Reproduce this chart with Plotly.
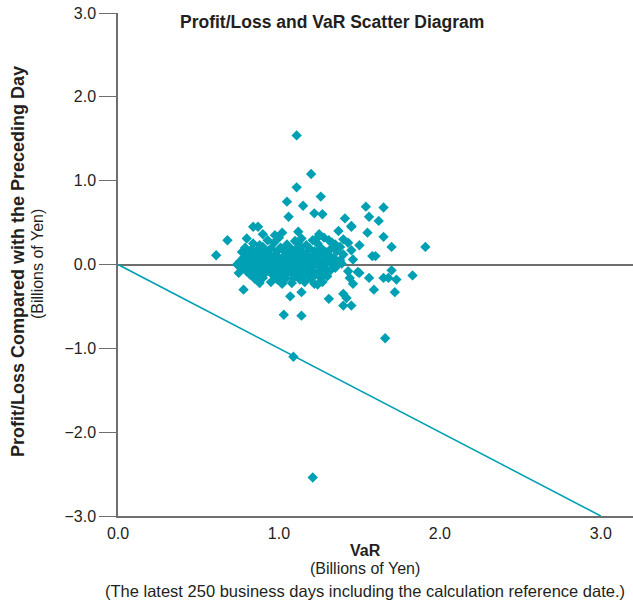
import plotly.graph_objects as go

# ---- data ----
sparse_points = [
    (1.11, 1.54), (1.20, 1.08), (1.11, 0.92), (1.26, 0.81), (1.05, 0.75), (1.15, 0.70),
    (1.06, 0.57), (1.22, 0.61), (1.27, 0.60), (1.41, 0.55), (1.54, 0.69), (1.65, 0.68),
    (1.56, 0.57), (1.62, 0.52), (1.45, 0.46), (0.84, 0.45), (0.87, 0.45), (0.68, 0.29),
    (0.61, 0.11), (0.78, -0.30), (0.75, -0.10), (1.07, -0.38), (1.14, -0.33), (1.03, -0.60),
    (1.14, -0.61), (1.31, -0.41), (1.40, -0.35), (1.42, -0.40), (1.40, -0.49), (1.45, -0.49),
    (1.46, -0.23), (1.50, -0.10), (1.56, -0.16), (1.59, -0.30), (1.65, -0.16), (1.68, -0.16),
    (1.70, -0.07), (1.73, -0.18), (1.72, -0.33), (1.83, -0.13), (1.60, 0.10), (1.58, 0.10),
    (1.70, 0.21), (1.65, 0.33), (1.55, 0.38), (1.45, 0.45), (1.91, 0.21), (1.66, -0.88),
    (1.09, -1.10), (1.21, -2.54), (1.24, -0.24), (1.27, -0.21), (1.30, -0.14), (1.18, -0.12),
    (0.90, 0.36), (0.975, 0.35), (1.02, 0.38), (1.12, 0.39), (1.37, 0.40), (1.43, 0.26),
    (1.50, 0.23), (1.40, 0.30), (1.31, 0.29), (1.25, 0.36), (1.23, 0.30), (1.33, 0.26),
    (1.45, 0.17), (1.46, 0.06), (1.38, 0.05), (1.43, -0.08), (1.49, -0.09), (1.44, -0.16),
]

dense_points = [
    (0.80, 0.31), (0.93, 0.29), (1.00, 0.32), (1.10, 0.28), (1.14, 0.31), (1.21, 0.29), (1.28, 0.32),
    (0.84, 0.25), (0.88, 0.23), (0.97, 0.26), (1.05, 0.24), (1.12, 0.26), (1.17, 0.23), (1.24, 0.25), (1.35, 0.24),
    (0.79, 0.20), (0.83, 0.18), (0.90, 0.21), (0.95, 0.19), (1.01, 0.20), (1.08, 0.18), (1.13, 0.21),
    (1.19, 0.19), (1.26, 0.20), (1.32, 0.18), (1.38, 0.21),
    (0.77, 0.15), (0.86, 0.16), (0.92, 0.14), (0.99, 0.16), (1.04, 0.15), (1.10, 0.17), (1.15, 0.14),
    (1.22, 0.16), (1.29, 0.15), (1.36, 0.16),
    (0.81, 0.12), (0.85, 0.10), (0.89, 0.13), (0.94, 0.11), (0.98, 0.12), (1.03, 0.10), (1.07, 0.13),
    (1.12, 0.11), (1.17, 0.12), (1.21, 0.10), (1.25, 0.13), (1.31, 0.11), (1.40, 0.12),
    (0.78, 0.08), (0.83, 0.07), (0.87, 0.09), (0.91, 0.07), (0.96, 0.08), (1.00, 0.06), (1.05, 0.09),
    (1.09, 0.07), (1.14, 0.08), (1.19, 0.06), (1.23, 0.09), (1.28, 0.07), (1.34, 0.08),
    (0.76, 0.04), (0.80, 0.03), (0.84, 0.05), (0.88, 0.03), (0.93, 0.04), (0.97, 0.02), (1.02, 0.05),
    (1.06, 0.03), (1.11, 0.04), (1.16, 0.02), (1.20, 0.05), (1.24, 0.03), (1.30, 0.04), (1.37, 0.02),
    (0.74, 0.00), (0.79, -0.01), (0.82, 0.01), (0.86, -0.01), (0.90, 0.00), (0.95, 0.01), (0.99, -0.01),
    (1.04, 0.00), (1.08, 0.01), (1.13, -0.01), (1.18, 0.00), (1.22, 0.01), (1.27, -0.01), (1.33, 0.00), (1.39, 0.01),
    (0.77, -0.04), (0.81, -0.05), (0.85, -0.03), (0.89, -0.05), (0.92, -0.04), (0.97, -0.03), (1.01, -0.05),
    (1.06, -0.04), (1.10, -0.03), (1.15, -0.05), (1.19, -0.04), (1.25, -0.03), (1.29, -0.05), (1.35, -0.04),
    (0.80, -0.08), (0.84, -0.09), (0.88, -0.07), (0.94, -0.08), (0.98, -0.09), (1.03, -0.07), (1.07, -0.08),
    (1.12, -0.09), (1.17, -0.07), (1.21, -0.08), (1.26, -0.09), (1.32, -0.07),
    (0.82, -0.12), (0.87, -0.13), (0.91, -0.11), (0.96, -0.12), (1.01, -0.13), (1.05, -0.11), (1.10, -0.12),
    (1.15, -0.13), (1.23, -0.11), (1.28, -0.12),
    (0.85, -0.17), (0.90, -0.16), (0.99, -0.18), (1.04, -0.17), (1.09, -0.16), (1.13, -0.18), (1.20, -0.17), (1.26, -0.16),
    (0.88, -0.22), (0.95, -0.21), (1.02, -0.23), (1.08, -0.22), (1.16, -0.21), (1.22, -0.23),
]

var_values = [p[0] for p in dense_points + sparse_points]
pl_values = [p[1] for p in dense_points + sparse_points]

var_line_x = [0.0, 3.0]
var_line_y = [-v for v in var_line_x]

y_tick_vals = [-3, -2, -1, 0, 1, 2, 3]
y_tick_text = ["\u22123.0", "\u22122.0", "\u22121.0", "0.0", "1.0", "2.0", "3.0"]
x_tick_vals = [0, 1, 2, 3]
x_tick_text = ["0.0", "1.0", "2.0", "3.0"]

TEAL = "#00a0b4"
GRAY = "#6e6e6e"
TXT = "#231f20"
FONT = "Liberation Sans, Arial, sans-serif"

W, H = 633, 605
L, R, T, B = 118, 0, 13, 89

fig = go.Figure()
fig.add_trace(go.Scatter(x=var_line_x, y=var_line_y, mode="lines",
                         line=dict(color=TEAL, width=1.6), hoverinfo="skip", showlegend=False))
fig.add_trace(go.Scatter(x=var_values, y=pl_values, mode="markers",
                         marker=dict(symbol="diamond", size=8, color=TEAL, line=dict(width=0)),
                         showlegend=False))


def px_ann(text, px, py, size, angle=0):
    return dict(text=text, x=(px - L) / (W - L - R), y=((H - py) - B) / (H - T - B),
                xref="paper", yref="paper", xanchor="center", yanchor="middle",
                showarrow=False, textangle=angle, font=dict(size=size))


fig.update_layout(
    width=W, height=H,
    margin=dict(l=L, r=R, t=T, b=B),
    paper_bgcolor="white", plot_bgcolor="white",
    font=dict(family=FONT, color=TXT, size=16),
    xaxis=dict(range=[0, 3.2], showgrid=False, zeroline=False,
               tickvals=x_tick_vals, ticktext=x_tick_text, ticks="",
               showline=True, linecolor=GRAY, linewidth=1.5,
               tickfont=dict(size=16, color=TXT), ticklabelstandoff=2),
    yaxis=dict(range=[-3, 3], showgrid=False,
               zeroline=True, zerolinecolor=GRAY, zerolinewidth=1.5,
               tickvals=y_tick_vals, ticktext=y_tick_text,
               ticks="outside", ticklen=17, tickwidth=1.2, tickcolor=GRAY,
               showline=True, linecolor=GRAY, linewidth=1.5,
               tickfont=dict(size=16, color=TXT)),
    annotations=[
        px_ann("<b>Profit/Loss and VaR Scatter Diagram</b>", 332, 22, 17.5),
        px_ann("<b>Profit/Loss Compared with the Preceding Day</b>", 18, 262, 18, -90),
        px_ann("(Billions of Yen)", 37, 264, 16, -90),
        px_ann("<b>VaR</b>", 365, 550, 16),
        px_ann("(Billions of Yen)", 365, 568, 16),
        px_ann("(The latest 250 business days including the calculation reference date.)",
               365, 591, 16.5),
    ],
)

fig.write_html("out.html", config={"displayModeBar": False},
               post_script="document.body.style.margin='0';")
